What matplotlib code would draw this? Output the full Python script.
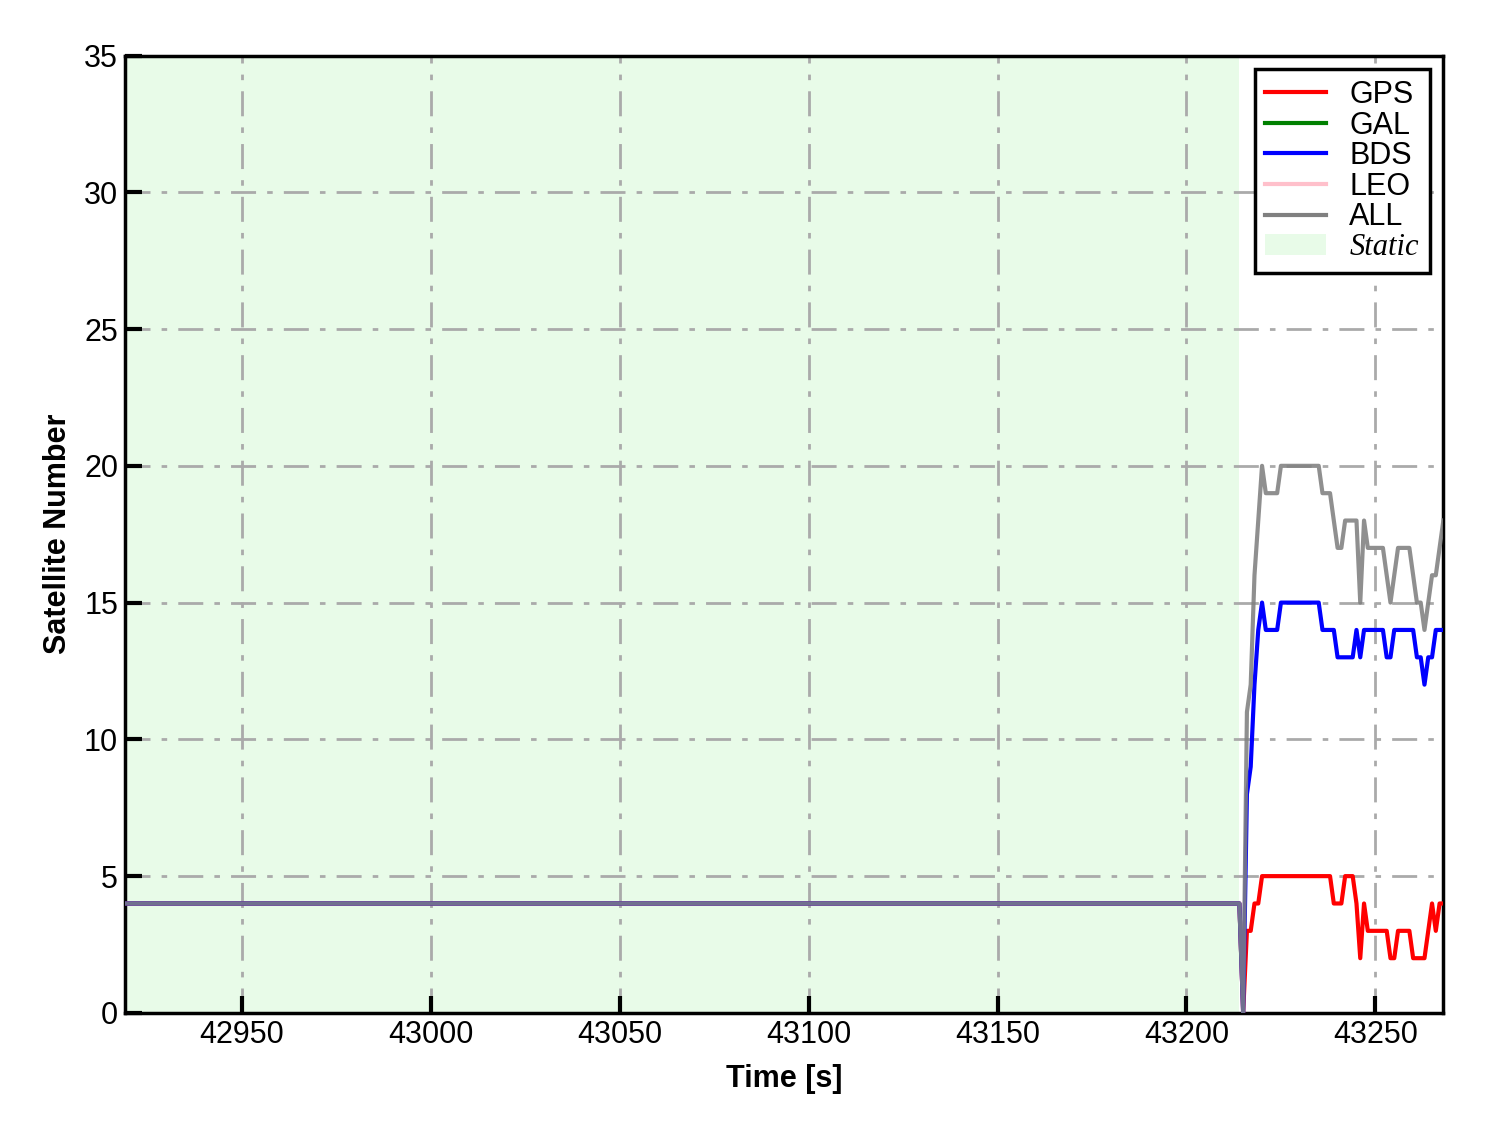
import matplotlib
matplotlib.use("Agg")
import matplotlib.pyplot as plt
from matplotlib.patches import Patch
from matplotlib.lines import Line2D

plt.rcParams['font.family'] = ['Liberation Sans', 'DejaVu Sans']

# time axis (s)
time = [42919, 43214, 43215, 43216, 43217, 43218, 43219, 43220, 43221, 43222,
        43223, 43224, 43225, 43226, 43227, 43228, 43229, 43230, 43231, 43232,
        43233, 43234, 43235, 43236, 43237, 43238, 43239, 43240, 43241, 43242,
        43243, 43244, 43245, 43246, 43247, 43248, 43249, 43250, 43251, 43252,
        43253, 43254, 43255, 43256, 43257, 43258, 43259, 43260, 43261, 43262,
        43263, 43264, 43265, 43266, 43267, 43268]

gps = [4, 4, 0, 3, 3, 4, 4, 5, 5, 5,
       5, 5, 5, 5, 5, 5, 5, 5, 5, 5,
       5, 5, 5, 5, 5, 5, 4, 4, 4, 5,
       5, 5, 4, 2, 4, 3, 3, 3, 3, 3,
       3, 2, 2, 3, 3, 3, 3, 2, 2, 2,
       2, 3, 4, 3, 4, 4]

bds = [4, 4, 0, 8, 9, 12, 14, 15, 14, 14,
       14, 14, 15, 15, 15, 15, 15, 15, 15, 15,
       15, 15, 15, 14, 14, 14, 14, 13, 13, 13,
       13, 13, 14, 13, 14, 14, 14, 14, 14, 14,
       13, 13, 14, 14, 14, 14, 14, 14, 13, 13,
       12, 13, 13, 14, 14, 14]

all_sys = [4, 4, 0, 11, 12, 16, 18, 20, 19, 19,
           19, 19, 20, 20, 20, 20, 20, 20, 20, 20,
           20, 20, 20, 19, 19, 19, 18, 17, 17, 18,
           18, 18, 18, 15, 18, 17, 17, 17, 17, 17,
           16, 15, 16, 17, 17, 17, 17, 16, 15, 15,
           14, 15, 16, 16, 17, 18]

static_start, static_end = 42919, 43214
xlim = (42919, 43268)
ylim = (0, 35)
xticks = [42950, 43000, 43050, 43100, 43150, 43200, 43250]
yticks = [0, 5, 10, 15, 20, 25, 30, 35]

fig = plt.figure(figsize=(14.88, 11.33), dpi=100)
ax = fig.add_axes([0.084, 0.106, 0.886, 0.845])

ax.axvspan(static_start, static_end, color='lightgreen', alpha=0.2, lw=0, zorder=0)

lw = 3.0
ax.plot(time, gps, color='red', lw=lw, zorder=3)
ax.plot(time, bds, color='blue', lw=lw, zorder=3)
ax.plot(time, all_sys, color='grey', lw=lw, alpha=0.88, zorder=4)

ax.set_xlim(*xlim)
ax.set_ylim(*ylim)
ax.set_xticks(xticks)
ax.set_yticks(yticks)
ax.set_xticklabels([str(v) for v in xticks])
ax.tick_params(direction='in', length=12, width=3, labelsize=22, pad=5)
ax.grid(True, color='#aaaaaa', linestyle='-.', linewidth=2, dashes=(9, 4, 2, 4))
ax.set_axisbelow(True)
for s in ax.spines.values():
    s.set_linewidth(2.5)

ax.set_xlabel('Time [s]', fontsize=22, fontweight='bold', labelpad=10)
ax.set_ylabel('Satellite Number', fontsize=22, fontweight='bold', labelpad=8)

handles = [
    Line2D([], [], color='red', lw=3),
    Line2D([], [], color='green', lw=3),
    Line2D([], [], color='blue', lw=3),
    Line2D([], [], color='pink', lw=3),
    Line2D([], [], color='grey', lw=3),
    Patch(facecolor='lightgreen', alpha=0.2, edgecolor='none'),
]
labels = ['GPS', 'GAL', 'BDS', 'LEO', 'ALL', 'Static']
leg = ax.legend(handles, labels, loc='upper right', fontsize=22, fancybox=False,
                framealpha=1, edgecolor='black', handlelength=2.0,
                borderaxespad=0.45, labelspacing=0.02, handletextpad=0.75,
                borderpad=0.35)
leg.get_frame().set_linewidth(2.5)
leg.get_texts()[-1].set_fontfamily('Liberation Serif')
leg.get_texts()[-1].set_fontstyle('italic')

fig.savefig('out.png', dpi=100)
